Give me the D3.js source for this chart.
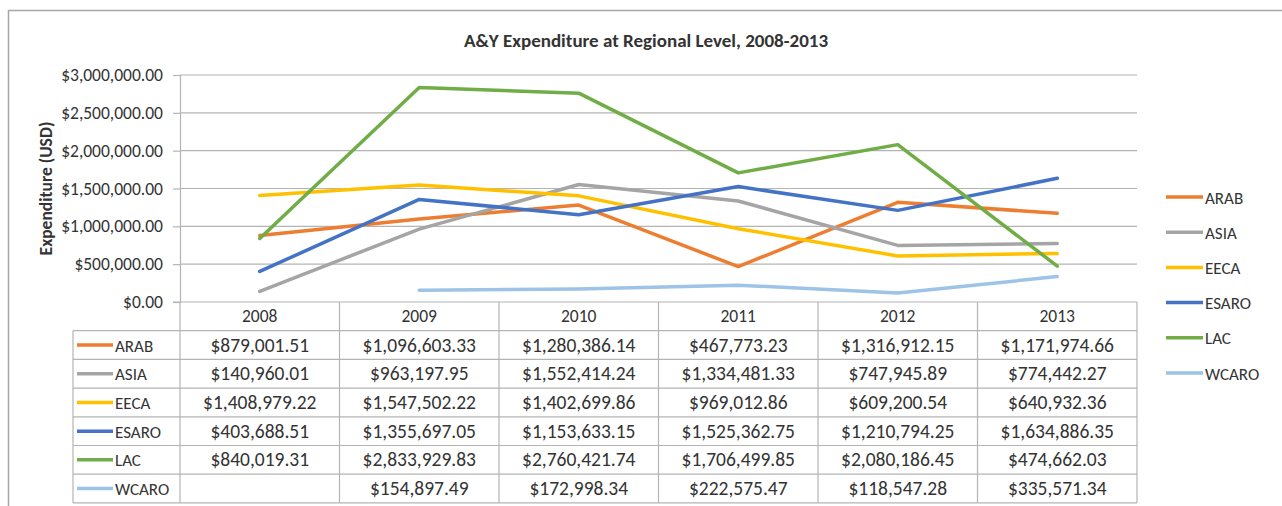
<!DOCTYPE html>
<html>
<head>
<meta charset="utf-8">
<script src="https://cdn.jsdelivr.net/npm/d3@7"></script>
<style>
  html, body { margin: 0; padding: 0; background: #fff; }
  svg { display: block; font-family: Carlito, Calibri, Lato, sans-serif; }
</style>
</head>
<body>
<div id="chart"></div>
<script>
// A&Y expenditure by region, 2008-2013
const years = ['2008', '2009', '2010', '2011', '2012', '2013'];
const regions = ['ARAB', 'ASIA', 'EECA', 'ESARO', 'LAC', 'WCARO'];
const colors = ['#ed7d31', '#a5a5a5', '#ffc000', '#4472c4', '#70ad47', '#9dc3e6'];

const arab  = [879001.51, 1096603.33, 1280386.14, 467773.23, 1316912.15, 1171974.66];
const asia  = [140960.01, 963197.95, 1552414.24, 1334481.33, 747945.89, 774442.27];
const eeca  = [1408979.22, 1547502.22, 1402699.86, 969012.86, 609200.54, 640932.36];
const esaro = [403688.51, 1355697.05, 1153633.15, 1525362.75, 1210794.25, 1634886.35];
const lac   = [840019.31, 2833929.83, 2760421.74, 1706499.85, 2080186.45, 474662.03];
const wcaro = [null, 154897.49, 172998.34, 222575.47, 118547.28, 335571.34];

const yTicks = [0, 500000, 1000000, 1500000, 2000000, 2500000, 3000000];

const series = [arab, asia, eeca, esaro, lac, wcaro].map((vals, i) => ({
  name: regions[i], color: colors[i], values: vals
}));

const W = 1282, H = 506;
const plot = { left: 180, right: 1137, top: 75, bottom: 302 };
const rowH = 28.7;
const labelColX = 73;
const gridColor = '#b4b4b4';
const textColor = '#333333';

const svg = d3.select('#chart').append('svg')
  .attr('width', W).attr('height', H);

// outer chart frame
svg.append('rect')
  .attr('x', 8.5).attr('y', 10.5)
  .attr('width', 1300).attr('height', 520)
  .attr('fill', 'none').attr('stroke', '#a6a6a6').attr('stroke-width', 1.5);

const x = d3.scalePoint().domain(years).range([plot.left, plot.right]).padding(0.5);
const colW = x.step();
const y = d3.scaleLinear().domain([0, 3000000]).range([plot.bottom, plot.top]);

// title
svg.append('text')
  .attr('x', 646).attr('y', 47)
  .attr('text-anchor', 'middle')
  .attr('font-size', 19).attr('font-weight', 'bold')
  .attr('fill', textColor)
  .text('A&Y Expenditure at Regional Level, 2008-2013');

// gridlines
svg.append('g')
  .selectAll('line')
  .data(yTicks.slice(1))
  .join('line')
  .attr('x1', plot.left).attr('x2', plot.right)
  .attr('y1', d => y(d)).attr('y2', d => y(d))
  .attr('stroke', gridColor).attr('stroke-width', 1.2);

// y axis
const yAxis = svg.append('g')
  .attr('transform', `translate(${plot.left},0)`)
  .call(d3.axisLeft(y).tickValues(yTicks).tickSize(7).tickPadding(10)
    .tickFormat(d => '$' + d3.format(',.2f')(d)));
yAxis.select('.domain').attr('stroke', gridColor).attr('stroke-width', 1.2);
yAxis.selectAll('.tick line').attr('stroke', gridColor).attr('stroke-width', 1.2);
yAxis.selectAll('.tick text')
  .attr('font-size', 17.5).attr('fill', textColor)
  .attr('font-family', 'Carlito, Calibri, Lato, sans-serif');

// y axis title
svg.append('text')
  .attr('transform', `translate(52,${(plot.top + plot.bottom) / 2}) rotate(-90)`)
  .attr('text-anchor', 'middle')
  .attr('font-size', 17.5).attr('font-weight', 'bold')
  .attr('fill', textColor)
  .text('Expenditure (USD)');

// data table
const table = svg.append('g');
const tableBottom = plot.bottom + rowH * 7;
const lineStyle = sel => sel.attr('stroke', gridColor).attr('stroke-width', 1.2);

// horizontal lines
table.append('line')
  .attr('x1', plot.left - 7).attr('x2', plot.right)
  .attr('y1', plot.bottom).attr('y2', plot.bottom).call(lineStyle);
d3.range(1, 8).forEach(r => {
  table.append('line')
    .attr('x1', labelColX).attr('x2', plot.right)
    .attr('y1', plot.bottom + r * rowH).attr('y2', plot.bottom + r * rowH)
    .call(lineStyle);
});
// vertical lines
table.append('line')
  .attr('x1', labelColX).attr('x2', labelColX)
  .attr('y1', plot.bottom + rowH).attr('y2', tableBottom).call(lineStyle);
d3.range(0, years.length + 1).forEach(c => {
  const cx = plot.left + c * colW;
  table.append('line')
    .attr('x1', cx).attr('x2', cx)
    .attr('y1', plot.bottom).attr('y2', tableBottom).call(lineStyle);
});

// header years
table.selectAll('text.year')
  .data(years)
  .join('text')
  .attr('class', 'year')
  .attr('x', d => x(d))
  .attr('y', plot.bottom + rowH / 2 + 6)
  .attr('text-anchor', 'middle')
  .attr('font-size', 17.5).attr('fill', textColor)
  .text(d => d);

const fmt = d3.format(',.2f');
series.forEach((s, i) => {
  const ry = plot.bottom + rowH * (i + 1) + rowH / 2;
  table.append('line')
    .attr('x1', 77).attr('x2', 113)
    .attr('y1', ry).attr('y2', ry)
    .attr('stroke', s.color).attr('stroke-width', 3.5);
  table.append('text')
    .attr('x', 115).attr('y', ry + 6.5)
    .attr('font-size', 17).attr('fill', textColor)
    .text(s.name);
  table.selectAll(null)
    .data(s.values)
    .join('text')
    .attr('x', (d, j) => x(years[j]))
    .attr('y', ry + 6.5)
    .attr('text-anchor', 'middle')
    .attr('font-size', 19.5).attr('fill', textColor)
    .text(d => d == null ? '' : '$' + fmt(d));
});

// lines
const line = d3.line()
  .defined(d => d.v != null)
  .x(d => x(d.year))
  .y(d => y(d.v));

svg.append('g')
  .selectAll('path')
  .data(series)
  .join('path')
  .attr('d', s => line(s.values.map((v, j) => ({ year: years[j], v }))))
  .attr('fill', 'none')
  .attr('stroke', s => s.color)
  .attr('stroke-width', 3.5)
  .attr('stroke-linejoin', 'round')
  .attr('stroke-linecap', 'round');

// legend
const legend = svg.append('g')
  .selectAll('g')
  .data(series)
  .join('g')
  .attr('transform', (d, i) => `translate(1166,${197 + i * 35.2})`);
legend.append('line')
  .attr('x1', 0).attr('x2', 37)
  .attr('stroke', d => d.color).attr('stroke-width', 3.5);
legend.append('text')
  .attr('x', 39).attr('y', 6.5)
  .attr('font-size', 17).attr('fill', textColor)
  .text(d => d.name);
</script>
</body>
</html>
